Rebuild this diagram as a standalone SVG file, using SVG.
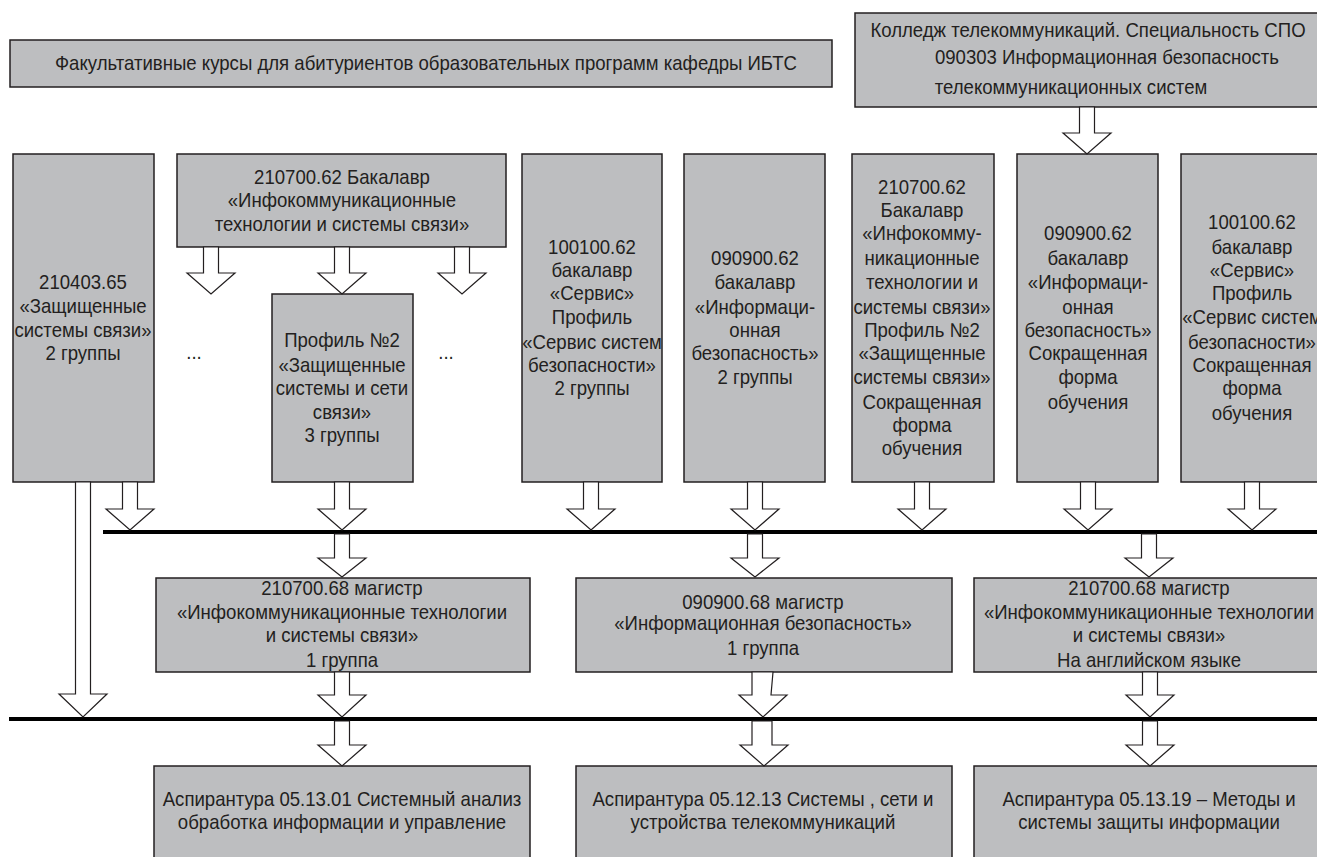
<svg xmlns="http://www.w3.org/2000/svg" width="1317" height="857" viewBox="0 0 1317 857">
<style>
.box{fill:#bdbec0;stroke:#231f20;stroke-width:1.5}
.t{font-family:"Liberation Sans",Arial,sans-serif;font-size:20px;fill:#231f20;text-anchor:middle;transform-box:fill-box;transform-origin:center;transform:scaleX(0.93)}
.arr{fill:#fff;stroke:#231f20;stroke-width:1.2;stroke-linejoin:miter}
.bus{stroke:#000;stroke-width:4}
</style>
<rect width="1317" height="857" fill="#fff"/>

<g id="n-fak"><rect class="box" x="10" y="40" width="822" height="47"/>
<text class="t" x="426" y="70">Факультативные курсы для абитуриентов образовательных программ кафедры ИБТС</text></g>

<g id="n-college"><rect class="box" x="855" y="13" width="470" height="94"/>
<text class="t" x="1088" y="37">Колледж телекоммуникаций. Специальность СПО</text>
<text class="t" x="1107" y="64">090303 Информационная безопасность</text>
<text class="t" x="1071" y="94">телекоммуникационных систем</text></g>

<g id="n-210403"><rect class="box" x="13" y="154" width="141" height="328"/>
<text class="t" x="83" y="289">210403.65</text>
<text class="t" x="83" y="313">«Защищенные</text>
<text class="t" x="83" y="337">системы связи»</text>
<text class="t" x="83" y="360">2 группы</text></g>

<g id="n-210700b"><rect class="box" x="177" y="154" width="329" height="93"/>
<text class="t" x="342" y="184">210700.62 Бакалавр</text>
<text class="t" x="342" y="207">«Инфокоммуникационные</text>
<text class="t" x="342" y="231">технологии и системы связи»</text></g>

<text class="t" x="194" y="359">...</text>
<text class="t" x="446" y="359">...</text>

<g id="n-profile2"><rect class="box" x="272" y="294" width="141" height="188"/>
<text class="t" x="342" y="347">Профиль №2</text>
<text class="t" x="342" y="372">«Защищенные</text>
<text class="t" x="342" y="395">системы и сети</text>
<text class="t" x="342" y="419">связи»</text>
<text class="t" x="342" y="442">3 группы</text></g>

<g id="n-100100"><rect class="box" x="522" y="154" width="140" height="328"/>
<text class="t" x="592" y="254">100100.62</text>
<text class="t" x="592" y="277">бакалавр</text>
<text class="t" x="592" y="300">«Сервис»</text>
<text class="t" x="592" y="324">Профиль</text>
<text class="t" x="592" y="349">«Сервис систем</text>
<text class="t" x="592" y="372">безопасности»</text>
<text class="t" x="592" y="395">2 группы</text></g>

<g id="n-090900"><rect class="box" x="684" y="154" width="141" height="328"/>
<text class="t" x="755" y="265">090900.62</text>
<text class="t" x="755" y="289">бакалавр</text>
<text class="t" x="755" y="314">«Информаци-</text>
<text class="t" x="755" y="337">онная</text>
<text class="t" x="755" y="360">безопасность»</text>
<text class="t" x="755" y="384">2 группы</text></g>

<g id="n-210700s"><rect class="box" x="852" y="154" width="142" height="328"/>
<text class="t" x="922" y="194">210700.62</text>
<text class="t" x="922" y="217">Бакалавр</text>
<text class="t" x="922" y="240">«Инфокомму-</text>
<text class="t" x="922" y="265">никационные</text>
<text class="t" x="922" y="289">технологии и</text>
<text class="t" x="922" y="314">системы связи»</text>
<text class="t" x="922" y="337">Профиль №2</text>
<text class="t" x="922" y="360">«Защищенные</text>
<text class="t" x="922" y="384">системы связи»</text>
<text class="t" x="922" y="409">Сокращенная</text>
<text class="t" x="922" y="432">форма</text>
<text class="t" x="922" y="455">обучения</text></g>

<g id="n-090900s"><rect class="box" x="1017" y="154" width="141" height="328"/>
<text class="t" x="1088" y="240">090900.62</text>
<text class="t" x="1088" y="265">бакалавр</text>
<text class="t" x="1088" y="289">«Информаци-</text>
<text class="t" x="1088" y="314">онная</text>
<text class="t" x="1088" y="337">безопасность»</text>
<text class="t" x="1088" y="360">Сокращенная</text>
<text class="t" x="1088" y="384">форма</text>
<text class="t" x="1088" y="409">обучения</text></g>

<g id="n-100100s"><rect class="box" x="1181" y="154" width="142" height="328"/>
<text class="t" x="1252" y="229">100100.62</text>
<text class="t" x="1252" y="254">бакалавр</text>
<text class="t" x="1252" y="277">«Сервис»</text>
<text class="t" x="1252" y="300">Профиль</text>
<text class="t" x="1252" y="324">«Сервис систем</text>
<text class="t" x="1252" y="349">безопасности»</text>
<text class="t" x="1252" y="372">Сокращенная</text>
<text class="t" x="1252" y="395">форма</text>
<text class="t" x="1252" y="420">обучения</text></g>

<g id="n-m1"><rect class="box" x="156" y="578" width="374" height="94"/>
<text class="t" x="342" y="595">210700.68 магистр</text>
<text class="t" x="342" y="619">«Инфокоммуникационные технологии</text>
<text class="t" x="342" y="642">и системы связи»</text>
<text class="t" x="342" y="667">1 группа</text></g>

<g id="n-m2"><rect class="box" x="576" y="578" width="376" height="94"/>
<text class="t" x="763" y="609">090900.68 магистр</text>
<text class="t" x="763" y="630">«Информационная безопасность»</text>
<text class="t" x="763" y="655">1 группа</text></g>

<g id="n-m3"><rect class="box" x="974" y="578" width="360" height="94"/>
<text class="t" x="1149" y="595">210700.68 магистр</text>
<text class="t" x="1149" y="619">«Инфокоммуникационные технологии</text>
<text class="t" x="1149" y="642">и системы связи»</text>
<text class="t" x="1149" y="667">На английском языке</text></g>

<g id="n-p1"><rect class="box" x="154" y="766" width="376" height="110"/>
<text class="t" x="342" y="806">Аспирантура  05.13.01 Системный анализ</text>
<text class="t" x="342" y="829">обработка информации и управление</text></g>

<g id="n-p2"><rect class="box" x="576" y="766" width="376" height="110"/>
<text class="t" x="763" y="806">Аспирантура  05.12.13 Системы , сети и</text>
<text class="t" x="763" y="829">устройства телекоммуникаций</text></g>

<g id="n-p3"><rect class="box" x="974" y="766" width="360" height="110"/>
<text class="t" x="1149" y="806">Аспирантура   05.13.19 – Методы и</text>
<text class="t" x="1149" y="829">системы защиты информации</text></g>

<g id="connectors">
<line class="bus" x1="103" y1="532" x2="1317" y2="532"/>
<line class="bus" x1="9" y1="719" x2="1317" y2="719"/>
<polygon class="arr" points="203.5,247 218.5,247 218.5,273 235,273 211,294 187,273 203.5,273"/>
<polygon class="arr" points="334.5,247 349.5,247 349.5,273 366,273 342,294 318,273 334.5,273"/>
<polygon class="arr" points="454.5,247 469.5,247 469.5,273 486,273 462,294 438,273 454.5,273"/>
<polygon class="arr" points="1079.5,107 1094.5,107 1094.5,133 1111,133 1087,154 1063,133 1079.5,133"/>
<polygon class="arr" points="122.5,482 137.5,482 137.5,509 154,509 130,530 106,509 122.5,509"/>
<polygon class="arr" points="75.5,482 90.5,482 90.5,694 107,694 83,717 59,694 75.5,694"/>
<polygon class="arr" points="334.5,482 349.5,482 349.5,509 366,509 342,530 318,509 334.5,509"/>
<polygon class="arr" points="583.5,482 598.5,482 598.5,509 615,509 591,530 567,509 583.5,509"/>
<polygon class="arr" points="747.5,482 762.5,482 762.5,509 779,509 755,530 731,509 747.5,509"/>
<polygon class="arr" points="914.5,482 929.5,482 929.5,509 946,509 922,530 898,509 914.5,509"/>
<polygon class="arr" points="1080.5,482 1095.5,482 1095.5,509 1112,509 1088,530 1064,509 1080.5,509"/>
<polygon class="arr" points="1244.5,482 1259.5,482 1259.5,509 1276,509 1252,530 1228,509 1244.5,509"/>
<polygon class="arr" points="334.5,534 349.5,534 349.5,558 366,558 342,577 318,558 334.5,558"/>
<polygon class="arr" points="747.5,534 762.5,534 762.5,558 779,558 755,577 731,558 747.5,558"/>
<polygon class="arr" points="1141.5,534 1156.5,534 1156.5,558 1173,558 1149,577 1125,558 1141.5,558"/>
<polygon class="arr" points="334.5,672 349.5,672 349.5,695 366,695 342,717 318,695 334.5,695"/>
<polygon class="arr" points="752,672 773,672 771,695 787,695 763,717 739,695 752,695"/>
<polygon class="arr" points="1142.5,672 1157.5,672 1157.5,695 1174,695 1150,717 1126,695 1142.5,695"/>
<polygon class="arr" points="334.5,721 349.5,721 349.5,745 366,745 342,766 318,745 334.5,745"/>
<polygon class="arr" points="752,721 772,721 772,745 788,745 764,766 740,745 752,745"/>
<polygon class="arr" points="1142.5,721 1157.5,721 1157.5,745 1174,745 1150,766 1126,745 1142.5,745"/>
</g>
</svg>
